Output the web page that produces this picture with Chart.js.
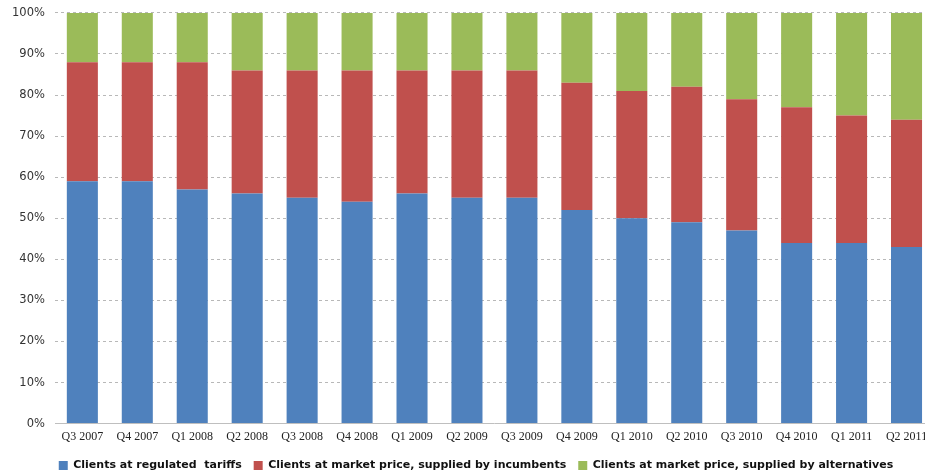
<!DOCTYPE html>
<html>
<head>
<meta charset="utf-8">
<script src="https://cdn.jsdelivr.net/npm/chart.js@4"></script>
<style>
  html, body { margin: 0; padding: 0; background: #fff; overflow: hidden; }
  #wrap { width: 934px; height: 479px; position: relative; top: -4px; }
</style>
</head>
<body>
<div id="wrap"><canvas id="c"></canvas></div>
<script>
const quarters = ['Q3 2007','Q4 2007','Q1 2008','Q2 2008','Q3 2008','Q4 2008','Q1 2009','Q2 2009',
                  'Q3 2009','Q4 2009','Q1 2010','Q2 2010','Q3 2010','Q4 2010','Q1 2011','Q2 2011'];
const regulated   = [59,59,57,56,55,54,56,55,55,52,50,49,47,44,44,43];
const incumbents  = [29,29,31,30,31,32,30,31,31,31,31,33,32,33,31,31];
const alternatives= [12,12,12,14,14,14,14,14,14,17,19,18,21,23,25,26];
const seriesNames = ['Clients at regulated  tariffs',
                     'Clients at market price, supplied by incumbents',
                     'Clients at market price, supplied by alternatives'];
const seriesColors = ['#4F81BD','#C0504D','#9BBB59'];

const values = [regulated, incumbents, alternatives];

// nudge the legend row a little to the right of the canvas centre
const legendShift = {
  id: 'legendShift',
  afterLayout(chart) {
    if (chart.legend) {
      chart.legend.left += 8;
      chart.legend.right += 8;
    }
  }
};

new Chart(document.getElementById('c'), {
  type: 'bar',
  data: {
    labels: quarters,
    datasets: values.map((v, i) => ({
      label: seriesNames[i],
      data: v,
      backgroundColor: seriesColors[i],
      borderWidth: 0,
      categoryPercentage: 1,
      barPercentage: 0.565
    }))
  },
  plugins: [legendShift],
  options: {
    responsive: true,
    maintainAspectRatio: false,
    animation: false,
    layout: { padding: { top: -4, left: 2, right: 0, bottom: -6 } },
    plugins: {
      tooltip: { enabled: false },
      legend: {
        position: 'bottom',
        align: 'center',
        labels: {
          boxWidth: 9, boxHeight: 9, padding: 12,
          color: '#111',
          font: { family: 'DejaVu Sans', size: 11, weight: 'bold' }
        }
      }
    },
    scales: {
      x: {
        stacked: true,
        grid: { display: false, drawTicks: false },
        border: { display: false },
        ticks: { color: '#222', padding: 6, maxRotation: 0,
                 font: { family: 'Liberation Serif', size: 12 } },
        afterFit: scale => { scale.height -= 2; }
      },
      y: {
        stacked: true,
        min: 0, max: 100,
        ticks: { stepSize: 10, color: '#333', padding: 10,
                 callback: v => v + '%',
                 font: { family: 'DejaVu Sans', size: 11.5 } },
        grid: {
          drawTicks: false,
          color: ctx => ctx.tick && ctx.tick.value === 0 ? '#bfbfbf' : '#b8b8b8',
          lineWidth: 1
        },
        border: { display: false, dash: ctx => ctx.tick && ctx.tick.value === 0 ? [] : [3, 3] }
      }
    }
  }
});
</script>
</body>
</html>
